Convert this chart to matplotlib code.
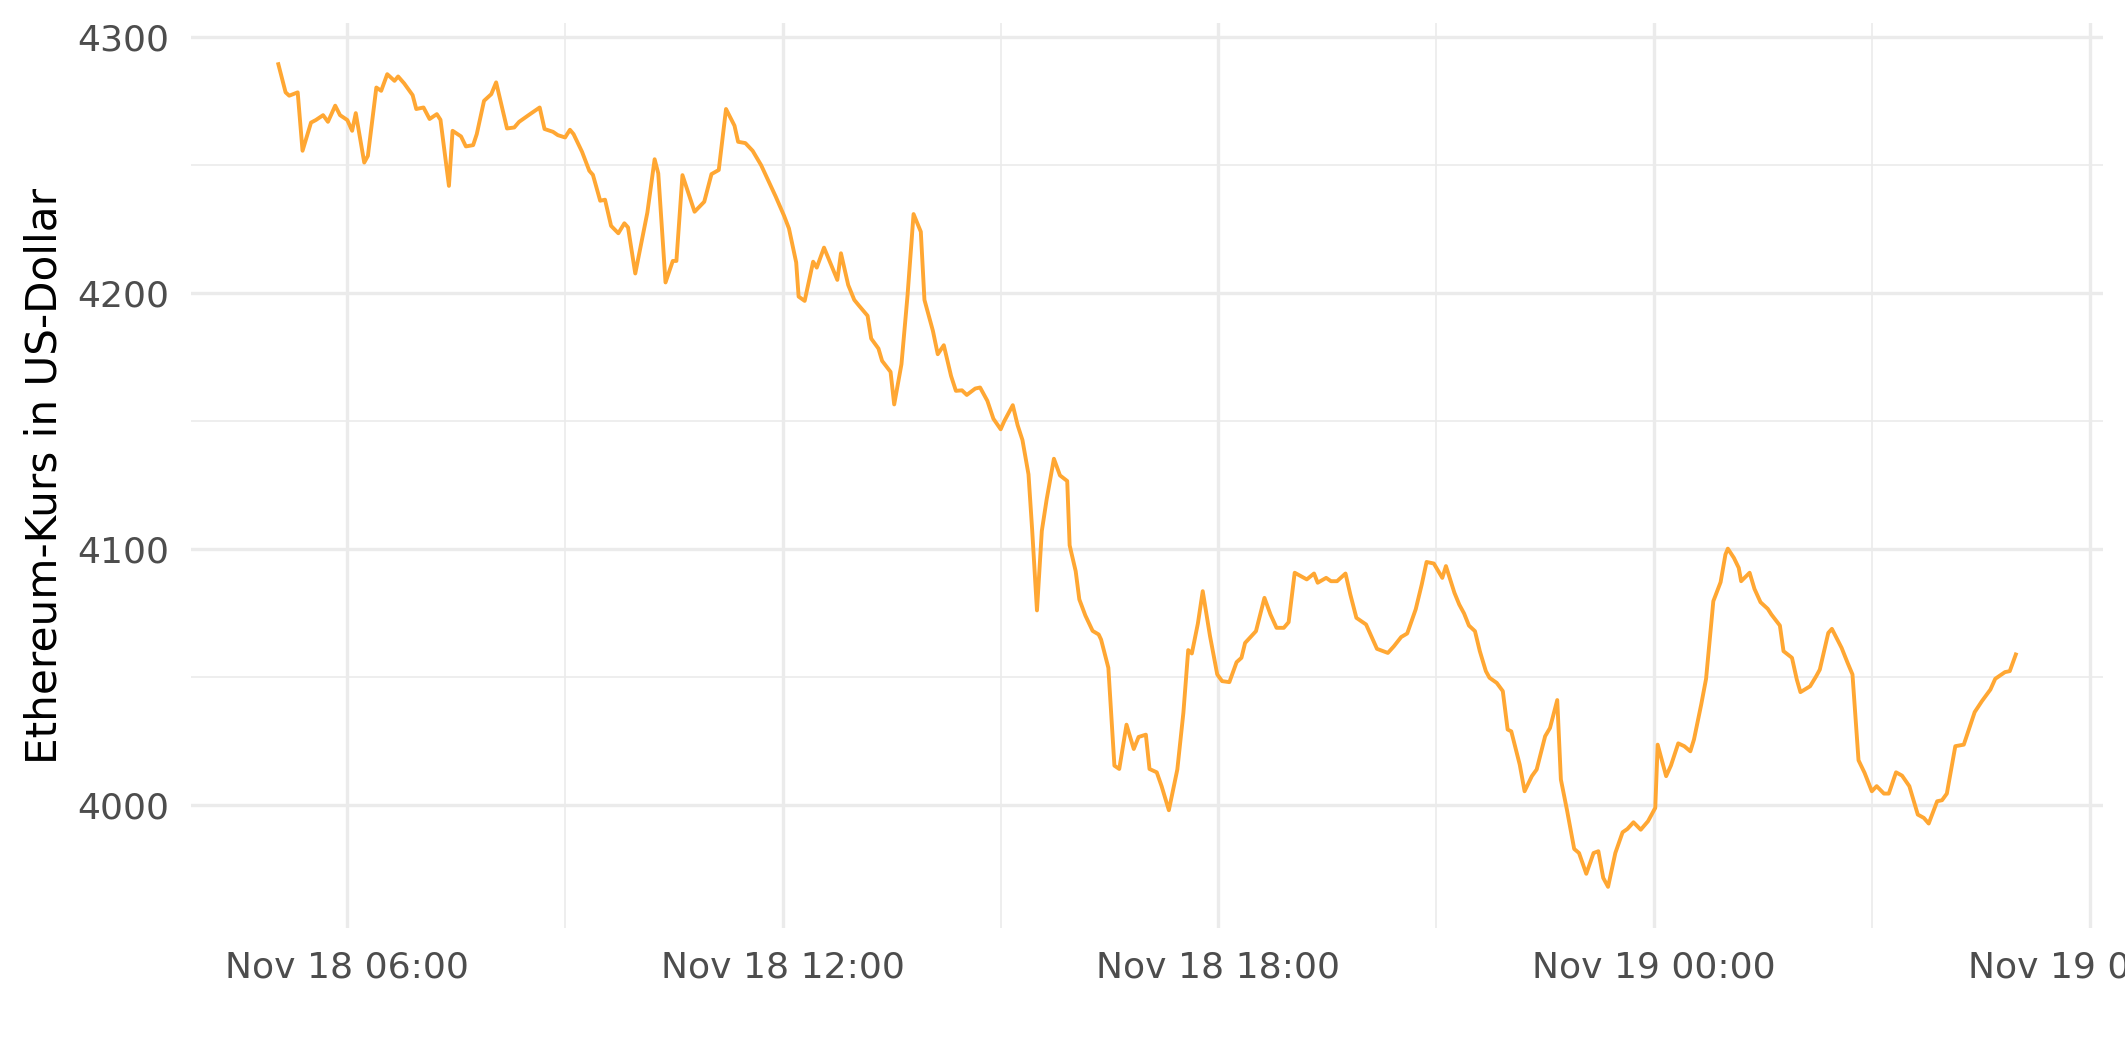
import pandas as pd
import matplotlib
matplotlib.use("Agg")
import matplotlib.pyplot as plt
import matplotlib.dates as mdates
from matplotlib.ticker import MultipleLocator

# Ethereum price, Nov 18-19 2021
times = [
    "2021-11-18 05:03", "2021-11-18 05:09", "2021-11-18 05:12", "2021-11-18 05:19", "2021-11-18 05:23",
    "2021-11-18 05:30", "2021-11-18 05:34", "2021-11-18 05:40", "2021-11-18 05:44", "2021-11-18 05:50",
    "2021-11-18 05:54", "2021-11-18 06:00", "2021-11-18 06:04", "2021-11-18 06:07", "2021-11-18 06:14",
    "2021-11-18 06:17", "2021-11-18 06:24", "2021-11-18 06:28", "2021-11-18 06:33", "2021-11-18 06:39",
    "2021-11-18 06:42", "2021-11-18 06:47", "2021-11-18 06:54", "2021-11-18 06:57", "2021-11-18 07:03",
    "2021-11-18 07:08", "2021-11-18 07:14", "2021-11-18 07:17", "2021-11-18 07:24", "2021-11-18 07:27",
    "2021-11-18 07:34", "2021-11-18 07:38", "2021-11-18 07:44", "2021-11-18 07:47", "2021-11-18 07:53",
    "2021-11-18 07:59", "2021-11-18 08:03", "2021-11-18 08:12", "2021-11-18 08:18", "2021-11-18 08:22",
    "2021-11-18 08:31", "2021-11-18 08:39", "2021-11-18 08:43", "2021-11-18 08:50", "2021-11-18 08:54",
    "2021-11-18 09:00", "2021-11-18 09:04", "2021-11-18 09:07", "2021-11-18 09:14", "2021-11-18 09:20",
    "2021-11-18 09:23", "2021-11-18 09:29", "2021-11-18 09:33", "2021-11-18 09:38", "2021-11-18 09:44",
    "2021-11-18 09:49", "2021-11-18 09:52", "2021-11-18 09:58", "2021-11-18 10:08", "2021-11-18 10:14",
    "2021-11-18 10:17", "2021-11-18 10:23", "2021-11-18 10:29", "2021-11-18 10:32", "2021-11-18 10:37",
    "2021-11-18 10:47", "2021-11-18 10:55", "2021-11-18 11:01", "2021-11-18 11:07", "2021-11-18 11:13",
    "2021-11-18 11:20", "2021-11-18 11:23", "2021-11-18 11:29", "2021-11-18 11:35", "2021-11-18 11:42",
    "2021-11-18 11:48", "2021-11-18 11:54", "2021-11-18 12:01", "2021-11-18 12:05", "2021-11-18 12:11",
    "2021-11-18 12:13", "2021-11-18 12:18", "2021-11-18 12:25", "2021-11-18 12:28", "2021-11-18 12:34",
    "2021-11-18 12:45", "2021-11-18 12:48", "2021-11-18 12:54", "2021-11-18 12:59", "2021-11-18 13:03",
    "2021-11-18 13:10", "2021-11-18 13:13", "2021-11-18 13:19", "2021-11-18 13:22", "2021-11-18 13:29",
    "2021-11-18 13:32", "2021-11-18 13:38", "2021-11-18 13:43", "2021-11-18 13:48", "2021-11-18 13:54",
    "2021-11-18 13:57", "2021-11-18 14:04", "2021-11-18 14:08", "2021-11-18 14:13", "2021-11-18 14:19",
    "2021-11-18 14:23", "2021-11-18 14:28", "2021-11-18 14:32", "2021-11-18 14:39", "2021-11-18 14:43",
    "2021-11-18 14:49", "2021-11-18 14:54", "2021-11-18 15:00", "2021-11-18 15:03", "2021-11-18 15:10",
    "2021-11-18 15:14", "2021-11-18 15:18", "2021-11-18 15:23", "2021-11-18 15:26", "2021-11-18 15:30",
    "2021-11-18 15:34", "2021-11-18 15:38", "2021-11-18 15:44", "2021-11-18 15:49", "2021-11-18 15:55",
    "2021-11-18 15:57", "2021-11-18 16:02", "2021-11-18 16:05", "2021-11-18 16:10", "2021-11-18 16:16",
    "2021-11-18 16:21", "2021-11-18 16:23", "2021-11-18 16:29", "2021-11-18 16:34", "2021-11-18 16:38",
    "2021-11-18 16:44", "2021-11-18 16:50", "2021-11-18 16:54", "2021-11-18 17:00", "2021-11-18 17:03",
    "2021-11-18 17:09", "2021-11-18 17:13", "2021-11-18 17:19", "2021-11-18 17:26", "2021-11-18 17:31",
    "2021-11-18 17:35", "2021-11-18 17:38", "2021-11-18 17:43", "2021-11-18 17:47", "2021-11-18 17:53",
    "2021-11-18 17:59", "2021-11-18 18:03", "2021-11-18 18:09", "2021-11-18 18:15", "2021-11-18 18:19",
    "2021-11-18 18:22", "2021-11-18 18:31", "2021-11-18 18:38", "2021-11-18 18:43", "2021-11-18 18:48",
    "2021-11-18 18:54", "2021-11-18 18:58", "2021-11-18 19:03", "2021-11-18 19:13", "2021-11-18 19:19",
    "2021-11-18 19:22", "2021-11-18 19:29", "2021-11-18 19:33", "2021-11-18 19:38", "2021-11-18 19:45",
    "2021-11-18 19:49", "2021-11-18 19:54", "2021-11-18 20:02", "2021-11-18 20:11", "2021-11-18 20:20",
    "2021-11-18 20:25", "2021-11-18 20:31", "2021-11-18 20:36", "2021-11-18 20:43", "2021-11-18 20:48",
    "2021-11-18 20:52", "2021-11-18 20:58", "2021-11-18 21:05", "2021-11-18 21:08", "2021-11-18 21:15",
    "2021-11-18 21:19", "2021-11-18 21:23", "2021-11-18 21:27", "2021-11-18 21:32", "2021-11-18 21:36",
    "2021-11-18 21:41", "2021-11-18 21:44", "2021-11-18 21:50", "2021-11-18 21:55", "2021-11-18 21:59",
    "2021-11-18 22:02", "2021-11-18 22:09", "2021-11-18 22:13", "2021-11-18 22:19", "2021-11-18 22:23",
    "2021-11-18 22:30", "2021-11-18 22:34", "2021-11-18 22:40", "2021-11-18 22:43", "2021-11-18 22:48",
    "2021-11-18 22:54", "2021-11-18 22:58", "2021-11-18 23:04", "2021-11-18 23:10", "2021-11-18 23:14",
    "2021-11-18 23:18", "2021-11-18 23:22", "2021-11-18 23:28", "2021-11-18 23:34", "2021-11-18 23:38",
    "2021-11-18 23:43", "2021-11-18 23:49", "2021-11-18 23:55", "2021-11-19 00:01", "2021-11-19 00:03",
    "2021-11-19 00:10", "2021-11-19 00:14", "2021-11-19 00:20", "2021-11-19 00:25", "2021-11-19 00:30",
    "2021-11-19 00:33", "2021-11-19 00:39", "2021-11-19 00:43", "2021-11-19 00:49", "2021-11-19 00:55",
    "2021-11-19 00:59", "2021-11-19 01:01", "2021-11-19 01:06", "2021-11-19 01:10", "2021-11-19 01:12",
    "2021-11-19 01:19", "2021-11-19 01:23", "2021-11-19 01:28", "2021-11-19 01:34", "2021-11-19 01:37",
    "2021-11-19 01:44", "2021-11-19 01:47", "2021-11-19 01:54", "2021-11-19 01:58", "2021-11-19 02:01",
    "2021-11-19 02:09", "2021-11-19 02:14", "2021-11-19 02:17", "2021-11-19 02:24", "2021-11-19 02:27",
    "2021-11-19 02:35", "2021-11-19 02:40", "2021-11-19 02:44", "2021-11-19 02:49", "2021-11-19 02:54",
    "2021-11-19 03:00", "2021-11-19 03:04", "2021-11-19 03:10", "2021-11-19 03:14", "2021-11-19 03:20",
    "2021-11-19 03:25", "2021-11-19 03:31", "2021-11-19 03:38", "2021-11-19 03:43", "2021-11-19 03:47",
    "2021-11-19 03:54", "2021-11-19 03:58", "2021-11-19 04:02", "2021-11-19 04:09", "2021-11-19 04:16",
    "2021-11-19 04:25", "2021-11-19 04:31", "2021-11-19 04:38", "2021-11-19 04:42", "2021-11-19 04:50",
    "2021-11-19 04:54", "2021-11-19 04:59",
]

prices = [
    4289.2, 4278.2, 4276.9, 4278.2, 4255.4,
    4266.4, 4267.4, 4269.3, 4266.7, 4273.0,
    4269.3, 4267.4, 4263.2, 4270.1, 4250.8,
    4253.4, 4280.1, 4278.8, 4285.3, 4282.7,
    4284.4, 4281.7, 4277.1, 4271.7, 4272.3,
    4267.8, 4269.7, 4267.5, 4241.7, 4263.2,
    4261.0, 4257.1, 4257.6, 4261.9, 4274.9,
    4277.5, 4282.1, 4264.1, 4264.5, 4266.7,
    4269.7, 4272.3, 4263.9, 4262.8, 4261.5,
    4260.6, 4263.6, 4261.9, 4255.0, 4247.6,
    4246.0, 4235.9, 4236.3, 4226.1, 4223.2,
    4227.1, 4225.5, 4207.5, 4231.3, 4252.1,
    4246.6, 4204.0, 4212.4, 4212.4, 4245.9,
    4231.6, 4235.5, 4246.3, 4247.9, 4271.7,
    4265.2, 4258.9, 4258.4, 4255.4, 4249.8,
    4243.7, 4237.6, 4230.0, 4225.1, 4211.8,
    4198.5, 4196.8, 4212.1, 4209.8, 4217.6,
    4205.0, 4215.4, 4203.0, 4197.2, 4194.9,
    4191.0, 4182.1, 4178.2, 4173.4, 4169.1,
    4156.4, 4172.1, 4198.8, 4230.7, 4223.8,
    4197.2, 4185.1, 4176.0, 4179.5, 4167.5,
    4161.7, 4161.9, 4160.1, 4162.6, 4163.0,
    4157.8, 4150.8, 4146.7, 4149.9, 4156.1,
    4148.3, 4142.5, 4129.1, 4107.6, 4076.0,
    4107.0, 4119.3, 4135.2, 4128.7, 4126.5,
    4101.4, 4091.3, 4080.3, 4074.0, 4068.0,
    4066.6, 4064.6, 4053.6, 4015.4, 4014.1,
    4031.4, 4021.9, 4026.6, 4027.5, 4014.1,
    4012.8, 4007.4, 3998.0, 4013.9, 4036.0,
    4060.5, 4059.2, 4070.9, 4083.5, 4066.0,
    4051.0, 4048.4, 4048.0, 4055.8, 4057.5,
    4063.3, 4067.9, 4080.9, 4074.4, 4069.2,
    4069.2, 4071.4, 4090.7, 4088.1, 4090.4,
    4086.8, 4088.7, 4087.4, 4087.4, 4090.4,
    4082.2, 4073.1, 4070.5, 4061.0, 4059.4,
    4062.0, 4065.6, 4067.0, 4076.4, 4086.1,
    4094.9, 4094.3, 4088.7, 4093.3, 4082.9,
    4078.3, 4074.8, 4070.1, 4067.9, 4060.1,
    4052.3, 4049.7, 4047.7, 4044.5, 4029.5,
    4028.8, 4015.8, 4005.4, 4011.3, 4013.9,
    4026.9, 4030.1, 4041.0, 4010.0, 3998.2,
    3982.9, 3981.3, 3973.2, 3981.3, 3982.0,
    3971.6, 3968.1, 3981.3, 3989.4, 3990.7,
    3993.3, 3990.4, 3993.7, 3998.9, 4023.6,
    4011.3, 4015.5, 4024.1, 4023.0, 4021.0,
    4025.6, 4039.3, 4049.3, 4079.6, 4087.0,
    4097.8, 4100.1, 4096.5, 4092.6, 4087.4,
    4090.7, 4084.4, 4079.2, 4076.6, 4074.4,
    4070.1, 4060.1, 4057.5, 4049.0, 4044.1,
    4046.4, 4050.3, 4052.9, 4067.2, 4068.8,
    4061.4, 4055.5, 4051.0, 4017.5, 4012.6,
    4005.4, 4007.4, 4004.5, 4004.5, 4012.8,
    4011.5, 4007.4, 3996.3, 3995.0, 3992.8,
    4001.5, 4001.9, 4004.5, 4023.0, 4023.6,
    4036.3, 4040.6, 4045.1, 4049.3, 4051.9,
    4052.3, 4058.8,
]

df = pd.DataFrame({"time": pd.to_datetime(times), "price": prices})

fig = plt.figure(figsize=(21.25, 10.62), dpi=100)
ax = fig.add_axes([0.0901, 0.1262, 0.8994, 0.8521])

ax.plot(df["time"], df["price"], color="#FFA733", lw=2.8)

# ggplot-style 5% expansion
t0, t1 = df["time"].min(), df["time"].max()
tpad = (t1 - t0) * 0.05
ax.set_xlim(t0 - tpad, t1 + tpad)
p0, p1 = df["price"].min(), df["price"].max()
ppad = (p1 - p0) * 0.05
ax.set_ylim(p0 - ppad, p1 + ppad)

ax.xaxis.set_major_locator(mdates.HourLocator(byhour=[0, 6, 12, 18]))
ax.xaxis.set_minor_locator(mdates.HourLocator(byhour=[3, 9, 15, 21]))
ax.xaxis.set_major_formatter(mdates.DateFormatter("%b %d %H:%M"))
ax.yaxis.set_major_locator(MultipleLocator(100))
ax.yaxis.set_minor_locator(MultipleLocator(50))

ax.grid(which="major", color="#EBEBEB", lw=2.4)
ax.grid(which="minor", color="#EBEBEB", lw=1.2)
ax.set_axisbelow(True)
for s in ax.spines.values():
    s.set_visible(False)

ax.tick_params(which="both", length=0, labelsize=26, labelcolor="#4D4D4D")
ax.tick_params(axis="x", pad=16)
ax.tick_params(axis="y", pad=16)

ax.set_ylabel("Ethereum-Kurs in US-Dollar", fontsize=30.3, color="black")
ax.yaxis.set_label_coords(-0.066, 0.5)

fig.savefig("out.png", dpi=100)
